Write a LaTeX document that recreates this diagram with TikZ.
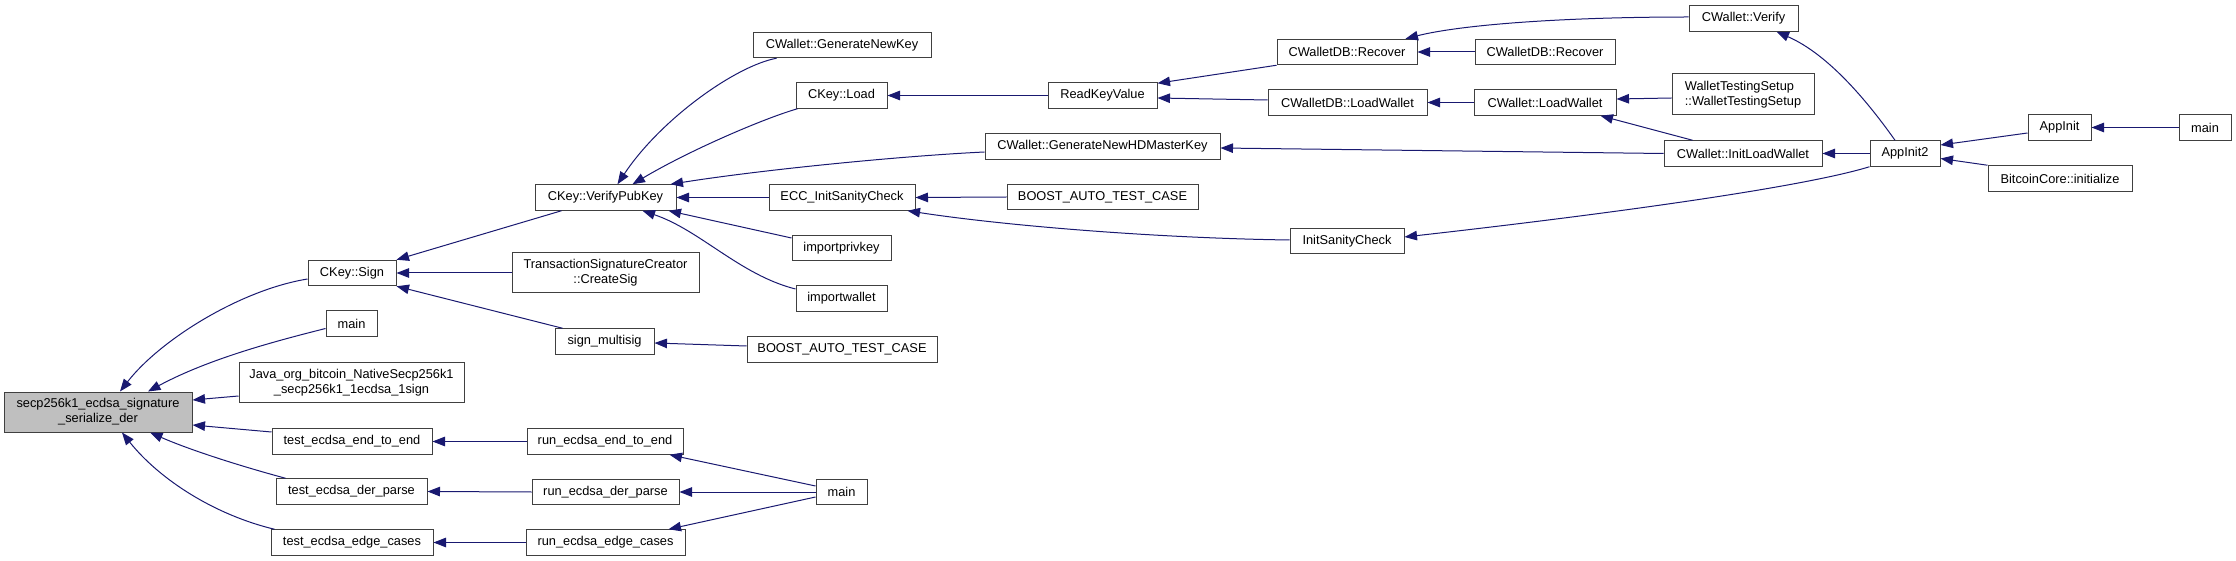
\documentclass[tikz,border=0pt]{standalone}
\usepackage{fontspec}
\newfontfamily\dxfont{Liberation Sans}
\usetikzlibrary{arrows.meta}
\definecolor{edgeblue}{HTML}{191970}
\definecolor{boxline}{HTML}{404040}
\begin{document}
\begin{tikzpicture}[x=1pt,y=-1pt,
  fn/.style={draw=boxline,line width=1pt,fill=white,inner sep=0pt,minimum height=25.5pt,font=\dxfont\fontsize{12.8}{15}\selectfont},
  two/.style={minimum height=40pt,align=center},
  edge/.style={draw=edgeblue,line width=1pt,-{Triangle[length=12.5pt,width=9.5pt]}}]
\useasboundingbox (0,0) rectangle (2236,561);
\begin{scope}[every node/.style={fn}]
  \node[two,fill=black!25,minimum width=188pt] (ser) at (98,412) {secp256k1\_ecdsa\_signature\\\_serialize\_der};
  \node[minimum width=88pt] (sign) at (352,273) {CKey::Sign};
  \node[minimum width=51pt] (mn1) at (351.5,323.5) {main};
  \node[two,minimum width=225pt] (java) at (351.5,382.5) {Java\_org\_bitcoin\_NativeSecp256k1\\\_secp256k1\_1ecdsa\_1sign};
  \node[minimum width=160pt] (te2e) at (352,441.5) {test\_ecdsa\_end\_to\_end};
  \node[minimum width=151pt] (tder) at (351.5,491.5) {test\_ecdsa\_der\_parse};
  \node[minimum width=162pt] (tedge) at (352,542.5) {test\_ecdsa\_edge\_cases};
  \node[minimum width=141pt] (vpk) at (605.5,197.5) {CKey::VerifyPubKey};
  \node[two,minimum width=187pt] (tsc) at (605.5,273) {TransactionSignatureCreator\\::CreateSig};
  \node[minimum width=99pt] (smul) at (604.5,341.5) {sign\_multisig};
  \node[minimum width=156pt] (re2e) at (605,441.5) {run\_ecdsa\_end\_to\_end};
  \node[minimum width=147pt] (rder) at (605.5,492) {run\_ecdsa\_der\_parse};
  \node[minimum width=159pt] (redge) at (605.5,542.5) {run\_ecdsa\_edge\_cases};
  \node[minimum width=178pt] (gnk) at (842,45) {CWallet::GenerateNewKey};
  \node[minimum width=91pt] (load) at (841.5,95.5) {CKey::Load};
  \node[minimum width=146pt] (ecc) at (842,197.5) {ECC\_InitSanityCheck};
  \node[minimum width=99pt] (ipk) at (841.5,248) {importprivkey};
  \node[minimum width=91pt] (iw) at (841.5,298.5) {importwallet};
  \node[minimum width=190pt] (bst2) at (842,349.5) {BOOST\_AUTO\_TEST\_CASE};
  \node[minimum width=51pt] (mn2) at (841.5,492) {main};
  \node[minimum width=109pt] (rkv) at (1102.5,95.5) {ReadKeyValue};
  \node[minimum width=235pt] (hdm) at (1102.5,146.5) {CWallet::GenerateNewHDMasterKey};
  \node[minimum width=191pt] (bst1) at (1102.5,197) {BOOST\_AUTO\_TEST\_CASE};
  \node[minimum width=140pt] (rec) at (1347,52) {CWalletDB::Recover};
  \node[minimum width=159pt] (dblw) at (1347.5,102.5) {CWalletDB::LoadWallet};
  \node[minimum width=114pt] (isc) at (1347,241) {InitSanityCheck};
  \node[minimum width=140pt] (rec2) at (1545,52) {CWalletDB::Recover};
  \node[minimum width=142pt] (cwlw) at (1545,102.5) {CWallet::LoadWallet};
  \node[minimum width=109pt] (ver) at (1743.5,18.5) {CWallet::Verify};
  \node[minimum width=142pt,minimum height=41pt,align=left] (wts) at (1743,94.5) {WalletTestingSetup\\::WalletTestingSetup};
  \node[minimum width=158pt] (ilw) at (1743,153.5) {CWallet::InitLoadWallet};
  \node[minimum width=70pt] (ai2) at (1905,153.5) {AppInit2};
  \node[minimum width=63pt] (ai) at (2059.5,127.5) {AppInit};
  \node[minimum width=144pt] (bci) at (2060,178.5) {BitcoinCore::initialize};
  \node[minimum width=52pt] (mn3) at (2205,127.5) {main};
\end{scope}
\draw[edge] ([yshift=-6pt]sign.west) .. controls (240,290) and (160,340) .. ([xshift=22pt]ser.north);
\draw[edge] ([yshift=-5pt]mn1.west) .. controls (280,340) and (210,358) .. ([xshift=50pt]ser.north);
\draw[edge] ([yshift=-13.5pt]java.west) -- ([yshift=12pt]ser.east);
\draw[edge] ([yshift=9.5pt]te2e.west) -- ([yshift=-13pt]ser.east);
\draw[edge] ([xshift=10pt]tder.north west) .. controls (240,466) and (190,450) .. ([xshift=52pt]ser.south);
\draw[edge] ([xshift=4pt]tedge.north west) .. controls (215,515) and (160,480) .. ([xshift=24pt]ser.south);
\draw[edge] (re2e.west) -- (te2e.east);
\draw[edge] (rder.west) -- (tder.east);
\draw[edge] (redge.west) -- (tedge.east);
\draw[edge] ([yshift=6pt]mn2.west) -- ([xshift=-14pt]re2e.south east);
\draw[edge] (mn2.west) -- (rder.east);
\draw[edge] ([yshift=-5pt]mn2.west) -- ([xshift=-17pt]redge.north east);
\draw[edge] ([xshift=27pt]vpk.south west) -- (sign.north east);
\draw[edge] (tsc.west) -- (sign.east);
\draw[edge] ([xshift=8pt]smul.north west) -- (sign.south east);
\draw[edge] ([yshift=3.5pt]bst2.west) -- ([yshift=-1.5pt]smul.east);
\draw[edge] ([xshift=24pt]gnk.south west) .. controls (735,66) and (660,120) .. ([xshift=12pt]vpk.north);
\draw[edge] ([xshift=2pt]load.south west) .. controls (765,118) and (690,150) .. ([xshift=27pt]vpk.north);
\draw[edge] ([yshift=-5.5pt]hdm.west) .. controls (900,156) and (760,170) .. ([xshift=-6pt]vpk.north east);
\draw[edge] (ecc.west) -- (vpk.east);
\draw[edge] ([yshift=10pt]ipk.west) -- ([xshift=-8pt]vpk.south east);
\draw[edge] ([yshift=9.5pt]iw.west) .. controls (740,275) and (700,230) .. ([xshift=37pt]vpk.south);
\draw[edge] (rkv.west) -- (load.east);
\draw[edge] (bst1.west) -- (ecc.east);
\draw[edge] ([yshift=1pt]isc.west) .. controls (1150,238) and (1000,225) .. ([xshift=-8pt]ecc.south east);
\draw[edge] (rec.south west) -- ([yshift=-1pt]rkv.north east);
\draw[edge] ([yshift=2.5pt]dblw.west) -- ([yshift=-2.5pt]rkv.east);
\draw[edge] (rec2.west) -- (rec.east);
\draw[edge] ([yshift=1.5pt]ver.west) .. controls (1560,17) and (1460,25) .. ([xshift=-12pt]rec.north east);
\draw[edge] (cwlw.west) -- (dblw.east);
\draw[edge] ([yshift=-3.5pt]wts.west) -- ([yshift=3.5pt]cwlw.east);
\draw[edge] ([xshift=29pt]ilw.north west) -- ([xshift=-16pt]cwlw.south east);
\draw[edge] (ilw.west) -- ([yshift=-1.5pt]hdm.east);
\draw[edge] ([xshift=-10pt]ai2.north) .. controls (1870,105) and (1830,55) .. ([xshift=33pt]ver.south);
\draw[edge] (ai2.west) -- (ilw.east);
\draw[edge] (ai2.south west) .. controls (1800,188) and (1600,215) .. ([yshift=4pt]isc.east);
\draw[edge] ([yshift=-5.5pt]ai.west) -- ([yshift=8.5pt]ai2.east);
\draw[edge] (bci.north west) -- ([yshift=-5pt]ai2.east);
\draw[edge] (mn3.west) -- (ai.east);
\end{tikzpicture}
\end{document}
